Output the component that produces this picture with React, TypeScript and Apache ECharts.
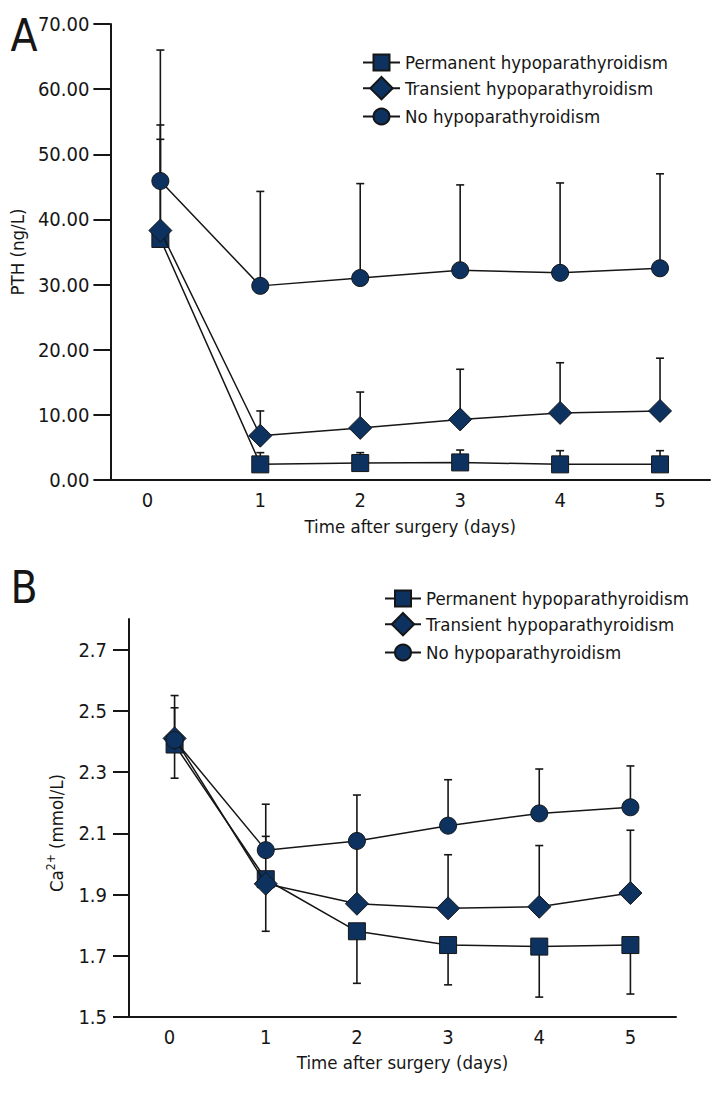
import React, { useEffect, useRef } from "react";
import * as echarts from "echarts";

const DAYS = ["0", "1", "2", "3", "4", "5"];
const NAMES = ["Permanent hypoparathyroidism", "Transient hypoparathyroidism", "No hypoparathyroidism"];

// Panel A: PTH (ng/L)
const PTH_PERM = [37.0, 2.4, 2.6, 2.7, 2.4, 2.4];
const PTH_PERM_ERR = [52.3, 4.2, 4.2, 4.6, 4.5, 4.5];
const PTH_TRANS = [38.3, 6.8, 8.0, 9.3, 10.3, 10.6];
const PTH_TRANS_ERR = [54.5, 10.6, 13.5, 17.0, 18.0, 18.7];
const PTH_NONE = [45.9, 29.8, 31.0, 32.2, 31.8, 32.5];
const PTH_NONE_ERR = [66.0, 44.3, 45.5, 45.3, 45.6, 47.0];

// Panel B: Ca2+ (mmol/L)
const CA_PERM = [2.39, 1.95, 1.78, 1.735, 1.73, 1.735];
const CA_PERM_ERR = [2.28, 1.78, 1.61, 1.605, 1.565, 1.575];
const CA_TRANS = [2.41, 1.935, 1.87, 1.855, 1.86, 1.905];
const CA_TRANS_ERR = [2.51, 2.09, 2.06, 2.03, 2.06, 2.11];
const CA_NONE = [2.405, 2.045, 2.075, 2.125, 2.165, 2.185];
const CA_NONE_ERR = [2.55, 2.195, 2.225, 2.275, 2.31, 2.32];

const PTH_TICKS = [0, 10, 20, 30, 40, 50, 60, 70];
const CA_TICKS = [1.5, 1.7, 1.9, 2.1, 2.3, 2.5, 2.7];

const FONT = "'Liberation Sans Narrow', 'DejaVu Sans Condensed', 'Noto Sans', sans-serif";
const INK = "#161616";
const FILL = "#0d3260";
const TICK_FS = 20;
const NAME_FS = 18.5;
const LEG_FS = 18.5;

const SYMBOLS: any[] = [
  { symbol: "rect", size: [17, 17] },
  { symbol: "diamond", size: [23, 23] },
  { symbol: "circle", size: 17 },
];

function lineSeries(name: string, idx: number, values: number[], k: number) {
  return {
    type: "line",
    name,
    xAxisIndex: idx,
    yAxisIndex: idx,
    data: values,
    symbol: SYMBOLS[k].symbol,
    symbolSize: SYMBOLS[k].size,
    showAllSymbol: true,
    z: 3 + k,
    lineStyle: { color: INK, width: 1.5 },
    itemStyle: { color: FILL, borderColor: INK, borderWidth: 1 },
    emphasis: { disabled: true },
  };
}

function errSeries(idx: number, means: number[], ends: number[]) {
  return {
    type: "custom",
    xAxisIndex: idx,
    yAxisIndex: idx,
    z: 2,
    silent: true,
    encode: { x: 0, y: [1, 2] },
    data: means.map((m, i) => [i, m, ends[i]]),
    renderItem: (params: any, api: any) => {
      const i = api.value(0);
      const p0 = api.coord([i, api.value(1)]);
      const p1 = api.coord([i, api.value(2)]);
      const st = { stroke: INK, lineWidth: 1.6 };
      return {
        type: "group",
        children: [
          { type: "line", shape: { x1: p0[0], y1: p0[1], x2: p1[0], y2: p1[1] }, style: st },
          { type: "line", shape: { x1: p1[0] - 4, y1: p1[1], x2: p1[0] + 4, y2: p1[1] }, style: st },
        ],
      };
    },
  };
}

function legends(left: number, rows: number[], itemWidth: number) {
  const heights = [20, 28, 20];
  return NAMES.map((n, k) => ({
    data: [n],
    left,
    top: rows[k] - heights[k] / 2,
    orient: "vertical",
    padding: 0,
    itemWidth,
    itemHeight: heights[k],
    selectedMode: false,
    textStyle: { fontFamily: FONT, fontSize: LEG_FS, color: INK },
  }));
}

function xAxis(gridIndex: number, shift: number, nameGap: number) {
  return {
    type: "category",
    gridIndex,
    data: DAYS,
    boundaryGap: true,
    name: "Time after surgery (days)",
    nameLocation: "middle",
    nameGap,
    nameTextStyle: { fontFamily: FONT, fontSize: NAME_FS, color: INK },
    axisLine: { lineStyle: { color: INK, width: 2 } },
    axisTick: { length: 10, lineStyle: { color: INK, width: 2 } },
    axisLabel: {
      fontFamily: FONT,
      fontSize: TICK_FS,
      color: INK,
      margin: 10,
      formatter: (v: string) => (v === "0" ? `{z|${v}}` : v),
      rich: { z: { fontFamily: FONT, fontSize: TICK_FS, color: INK, padding: [0, shift, 0, 0] } },
    },
    splitLine: { show: false },
  };
}

export default function App() {
  const ref = useRef<HTMLDivElement>(null);
  useEffect(() => {
    if (!ref.current) return;
    const chart = echarts.init(ref.current, undefined, { renderer: "svg" });
    const option: any = {
      animation: false,
      backgroundColor: "#ffffff",
      textStyle: { fontFamily: FONT },
      grid: [
        { left: 107, right: 10, top: 24, height: 456 },
        { left: 129, right: 44, top: 619, height: 398 },
      ],
      xAxis: [xAxis(0, 26, 37), xAxis(1, 10, 36)],
      yAxis: [
        {
          type: "value",
          gridIndex: 0,
          min: 0,
          max: 70,
          interval: 10,
          name: "PTH (ng/L)",
          nameLocation: "middle",
          nameGap: 74,
          nameTextStyle: { fontFamily: FONT, fontSize: NAME_FS, color: INK },
          axisLine: { show: true, lineStyle: { color: INK, width: 2 } },
          axisTick: { show: true, length: 17, lineStyle: { color: INK, width: 2 }, customValues: PTH_TICKS },
          axisLabel: {
            fontFamily: FONT,
            fontSize: TICK_FS,
            color: INK,
            margin: 21,
            customValues: PTH_TICKS,
            formatter: (v: number) => v.toFixed(2),
          },
          splitLine: { show: false },
        },
        {
          type: "value",
          gridIndex: 1,
          min: 1.5,
          max: 2.8,
          name: "{n|Ca}{s|2+}{n| (mmol/L)}",
          nameLocation: "middle",
          nameGap: 62,
          nameTextStyle: {
            fontFamily: FONT,
            fontSize: NAME_FS,
            color: INK,
            padding: [0, 30, 0, 0],
            rich: {
              n: { fontFamily: FONT, fontSize: NAME_FS, color: INK, lineHeight: 22 },
              s: { fontFamily: FONT, fontSize: 12, color: INK, lineHeight: 12, verticalAlign: "top" },
            },
          },
          axisLine: { show: true, lineStyle: { color: INK, width: 2 } },
          axisTick: { show: true, length: 16, lineStyle: { color: INK, width: 2 }, customValues: CA_TICKS },
          axisLabel: {
            fontFamily: FONT,
            fontSize: TICK_FS,
            color: INK,
            margin: 22,
            customValues: CA_TICKS,
            formatter: (v: number) => v.toFixed(1),
          },
          splitLine: { show: false },
        },
      ],
      legend: [...legends(362, [63, 90, 117], 37), ...legends(384, [599, 626, 653], 36)],
      graphic: [
        { type: "text", style: { text: "A", x: 24, y: 35, align: "center", verticalAlign: "middle", fontSize: 44, fontFamily: FONT, fill: INK } },
        { type: "text", style: { text: "B", x: 24, y: 587, align: "center", verticalAlign: "middle", fontSize: 44, fontFamily: FONT, fill: INK } },
      ],
      series: [
        errSeries(0, PTH_PERM, PTH_PERM_ERR),
        errSeries(0, PTH_TRANS, PTH_TRANS_ERR),
        errSeries(0, PTH_NONE, PTH_NONE_ERR),
        lineSeries(NAMES[0], 0, PTH_PERM, 0),
        lineSeries(NAMES[1], 0, PTH_TRANS, 1),
        lineSeries(NAMES[2], 0, PTH_NONE, 2),
        errSeries(1, CA_PERM, CA_PERM_ERR),
        errSeries(1, CA_TRANS, CA_TRANS_ERR),
        errSeries(1, CA_NONE, CA_NONE_ERR),
        lineSeries(NAMES[0], 1, CA_PERM, 0),
        lineSeries(NAMES[1], 1, CA_TRANS, 1),
        lineSeries(NAMES[2], 1, CA_NONE, 2),
      ],
    };
    chart.setOption(option);
    return () => chart.dispose();
  }, []);
  return (
    <div
      ref={ref}
      style={{ position: "absolute", left: 0, top: 0, width: 720, height: 1104, background: "#fff" }}
    />
  );
}
